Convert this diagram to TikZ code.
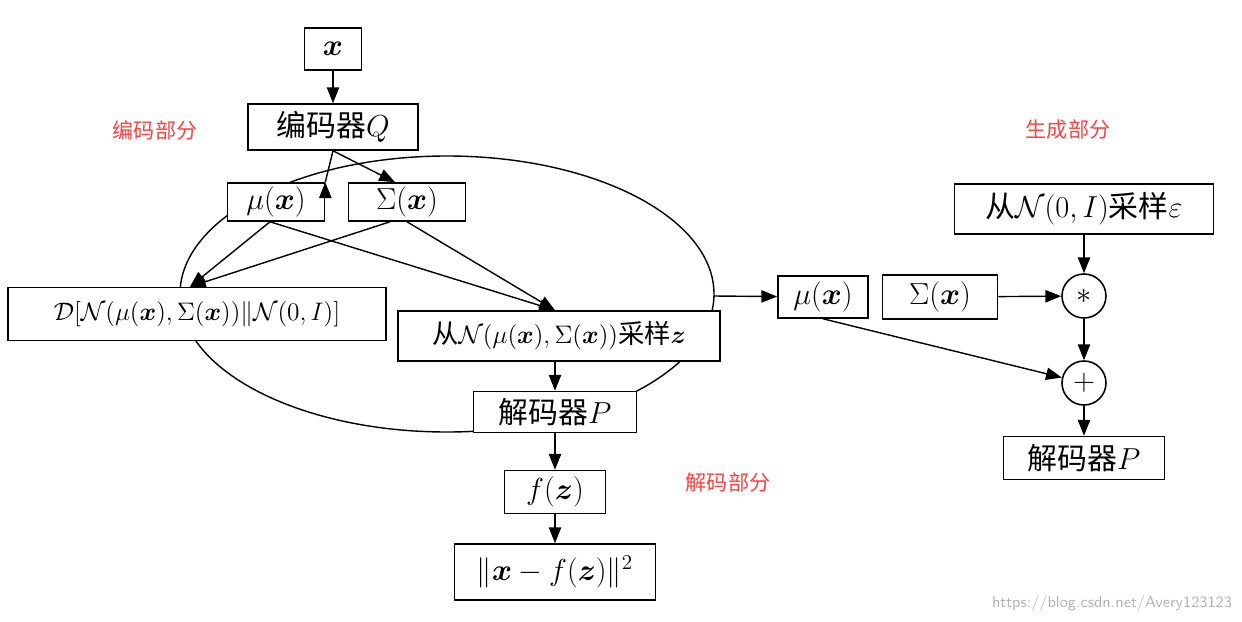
\documentclass[tikz,border=0pt]{standalone}
\usepackage{amsmath,bm}
\usepackage{fontspec}
\newfontfamily\cjk{Noto Sans CJK SC}
\usetikzlibrary{arrows.meta}
\begin{document}
\begin{tikzpicture}[x=0.02cm,y=-0.02cm,
  bx/.style={draw,fill=white,inner sep=0pt,line width=0.9pt,font=\fontsize{17}{19}\selectfont},
  arr/.style={-{Triangle[length=9pt,width=7pt]},line width=0.8pt},
  lab/.style={text=red!75!white,font=\cjk\fontsize{12}{14}\selectfont},
  circ/.style={draw,circle,fill=white,minimum size=0.88cm,inner sep=0pt,line width=0.9pt,font=\fontsize{17}{19}\selectfont}]
\useasboundingbox (0,0) rectangle (1242,622);
\draw[line width=0.8pt] (447,294) ellipse [x radius=267, y radius=138];
\coordinate (ee) at (714,296);
\node[bx,minimum width=57*0.02cm,minimum height=42*0.02cm] (x) at (333,49) {$\bm{x}$};
\node[bx,minimum width=170*0.02cm,minimum height=46*0.02cm] (Q) at (333,127) {{\cjk 编码器}$Q$};
\node[bx,minimum width=97*0.02cm,minimum height=38*0.02cm] (mu) at (276,202) {$\mu(\bm{x})$};
\node[bx,minimum width=117*0.02cm,minimum height=38*0.02cm] (sig) at (407,202) {$\Sigma(\bm{x})$};
\node[bx,minimum width=378*0.02cm,minimum height=53*0.02cm,font=\fontsize{14}{16}\selectfont] (D) at (197,314) {$\mathcal{D}[\mathcal{N}(\mu(\bm{x}),\Sigma(\bm{x}))\|\mathcal{N}(0,I)]$};
\node[bx,minimum width=322*0.02cm,minimum height=50*0.02cm,font=\fontsize{15}{17}\selectfont] (z) at (559,336) {{\cjk 从}$\mathcal{N}(\mu(\bm{x}),\Sigma(\bm{x}))${\cjk 采样}$\bm{z}$};
\node[bx,minimum width=163*0.02cm,minimum height=41*0.02cm] (P) at (555,412) {{\cjk 解码器}$P$};
\node[bx,minimum width=101*0.02cm,minimum height=43*0.02cm] (f) at (555,492) {$f(\bm{z})$};
\node[bx,minimum width=201*0.02cm,minimum height=56*0.02cm] (n) at (555,572) {$\|\bm{x}-f(\bm{z})\|^2$};
\node[bx,minimum width=259*0.02cm,minimum height=50*0.02cm] (eps) at (1084,209) {{\cjk 从}$\mathcal{N}(0,I)${\cjk 采样}$\varepsilon$};
\node[bx,minimum width=90*0.02cm,minimum height=42*0.02cm] (mu2) at (823,297) {$\mu(\bm{x})$};
\node[bx,minimum width=115*0.02cm,minimum height=44*0.02cm] (sig2) at (940,297) {$\Sigma(\bm{x})$};
\node[circ] (star) at (1084,296) {$*$};
\node[circ] (plus) at (1084,383) {$+$};
\node[bx,minimum width=161*0.02cm,minimum height=43*0.02cm] (P2) at (1084,458) {{\cjk 解码器}$P$};
\node[lab] (l1) at (155,130) {编码部分};
\node[lab] (l2) at (1068,130) {生成部分};
\node[lab] (l3) at (728,482) {解码部分};
\node[text=gray!60,font=\sffamily\fontsize{9}{11}\selectfont] (wm) at (1112,604) {https://blog.csdn.net/Avery123123};
\draw[arr] (x) -- (Q);
\draw[arr] (Q.south) -- (mu.north east)++(0,0);
\draw[arr] (Q.south) -- ([xshift=-12*0.02cm]sig.north);
\draw[arr] ([xshift=-6*0.02cm]mu.south) -- ([xshift=-7*0.02cm]D.north);
\draw[arr] ([xshift=-17*0.02cm]sig.south) -- ([xshift=-7*0.02cm]D.north);
\draw[arr] ([xshift=-6*0.02cm]mu.south) -- ([xshift=-4*0.02cm]z.north);
\draw[arr] (sig.south) -- ([xshift=-4*0.02cm]z.north);
\draw[arr] ([xshift=-4*0.02cm]z.south) -- ([xshift=0]P.north);
\draw[arr] (P) -- (f);
\draw[arr] (f) -- (n);
\draw[arr] (ee) -- (mu2);
\draw[arr] (eps) -- (star);
\draw[arr] (sig2) -- (star);
\draw[arr] (star) -- (plus);
\draw[arr] (plus) -- (P2);
\draw[arr] (mu2.south) -- (plus);
\end{tikzpicture}
\end{document}
